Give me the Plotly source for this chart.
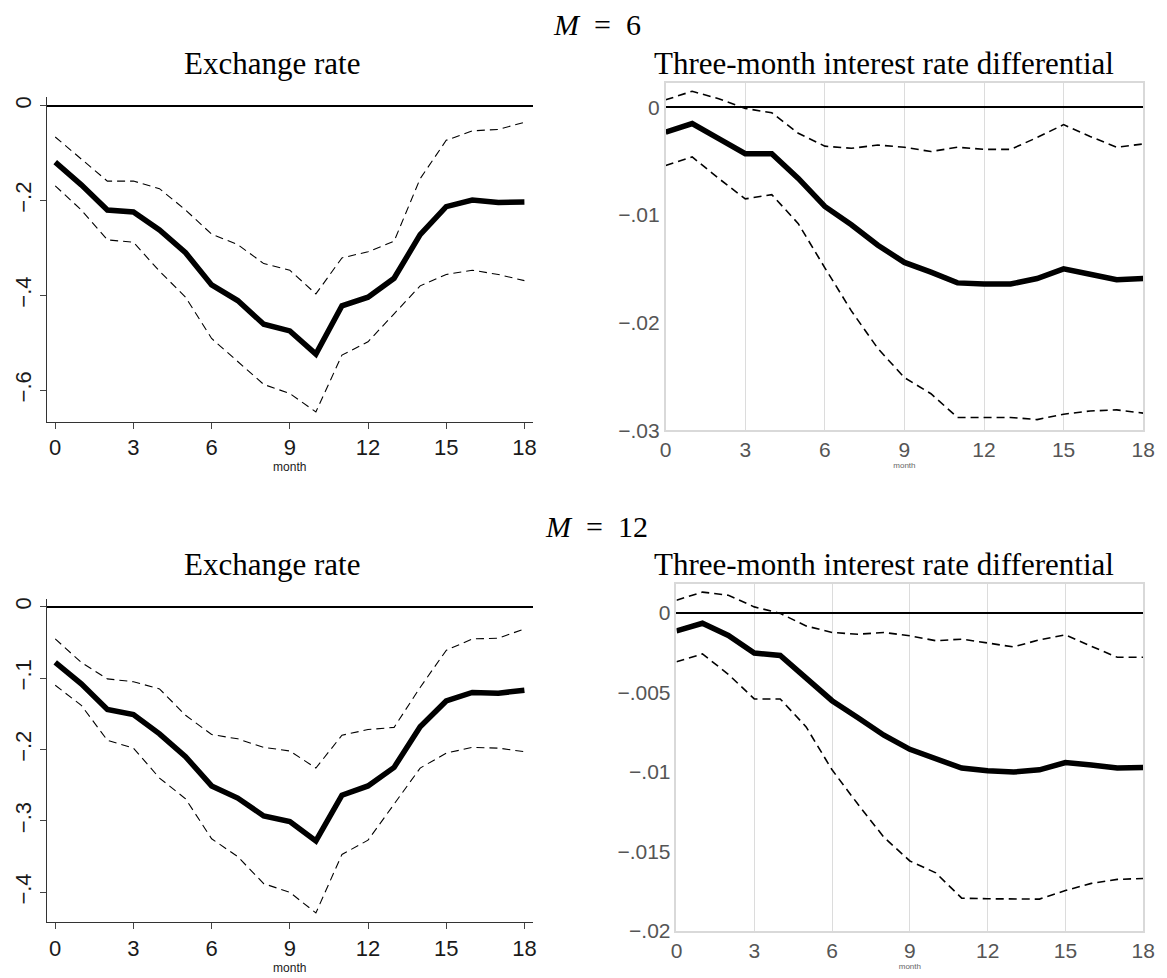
import plotly.graph_objects as go

# Impulse responses over an 18-month horizon, point estimate with confidence bands
months = list(range(19))

xr_m6_irf = [-0.119, -0.167, -0.220, -0.224, -0.262, -0.310, -0.378, -0.411, -0.461, -0.475,
             -0.524, -0.422, -0.404, -0.364, -0.272, -0.213, -0.199, -0.204, -0.203]
xr_m6_hi = [-0.066, -0.113, -0.159, -0.159, -0.175, -0.220, -0.271, -0.293, -0.333, -0.347,
            -0.397, -0.321, -0.308, -0.286, -0.154, -0.073, -0.053, -0.050, -0.035]
xr_m6_lo = [-0.169, -0.220, -0.283, -0.288, -0.349, -0.404, -0.491, -0.540, -0.588, -0.607,
            -0.646, -0.526, -0.498, -0.439, -0.380, -0.356, -0.347, -0.356, -0.369]

ir_m6_irf = [-0.0023, -0.0015, -0.0029, -0.0043, -0.0043, -0.0066, -0.0092, -0.0109, -0.0128, -0.0144,
             -0.0153, -0.0163, -0.0164, -0.0164, -0.0159, -0.0150, -0.0155, -0.0160, -0.0159]
ir_m6_hi = [0.0007, 0.0015, 0.0008, -0.0001, -0.0005, -0.0024, -0.0036, -0.0038, -0.0035, -0.0037,
            -0.0041, -0.0037, -0.0039, -0.0039, -0.0028, -0.0016, -0.0027, -0.0037, -0.0034]
ir_m6_lo = [-0.0054, -0.0046, -0.0066, -0.0085, -0.0081, -0.0108, -0.0149, -0.0189, -0.0224, -0.0251,
            -0.0266, -0.0288, -0.0288, -0.0288, -0.0290, -0.0285, -0.0282, -0.0281, -0.0284]

xr_m12_irf = [-0.078, -0.108, -0.144, -0.151, -0.178, -0.210, -0.251, -0.268, -0.293, -0.301,
              -0.328, -0.264, -0.251, -0.225, -0.168, -0.132, -0.120, -0.121, -0.117]
xr_m12_hi = [-0.045, -0.078, -0.101, -0.105, -0.115, -0.152, -0.179, -0.185, -0.197, -0.202,
             -0.226, -0.180, -0.172, -0.169, -0.113, -0.061, -0.045, -0.044, -0.031]
xr_m12_lo = [-0.110, -0.138, -0.187, -0.198, -0.240, -0.269, -0.325, -0.350, -0.388, -0.400,
             -0.429, -0.347, -0.327, -0.277, -0.226, -0.205, -0.197, -0.198, -0.203]

ir_m12_irf = [-0.00114, -0.00066, -0.00143, -0.00253, -0.00269, -0.00408, -0.00553, -0.0066, -0.0077,
              -0.00859, -0.00915, -0.00977, -0.00994, -0.01002, -0.00988, -0.00942, -0.00957, -0.00977, -0.00973]
ir_m12_hi = [0.00079, 0.0013, 0.0011, 0.00037, -0.00004, -0.00083, -0.00124, -0.00135, -0.00124,
             -0.00145, -0.00176, -0.00166, -0.0019, -0.00215, -0.0017, -0.00139, -0.00211, -0.0028, -0.0028]
ir_m12_lo = [-0.00308, -0.00259, -0.00387, -0.00542, -0.00542, -0.00718, -0.00988, -0.01205, -0.01412,
             -0.01561, -0.01636, -0.01795, -0.01799, -0.01799, -0.01801, -0.01747, -0.01702, -0.01677, -0.01671]

x_ticks = [0, 3, 6, 9, 12, 15, 18]
xr_m6_ticks = [0, -0.2, -0.4, -0.6]
xr_m6_ticktext = ["0", "\u2212.2", "\u2212.4", "\u2212.6"]
xr_m12_ticks = [0, -0.1, -0.2, -0.3, -0.4]
xr_m12_ticktext = ["0", "\u2212.1", "\u2212.2", "\u2212.3", "\u2212.4"]
ir_m6_ticks = [0, -0.01, -0.02, -0.03]
ir_m6_ticktext = ["0", "\u2212.01", "\u2212.02", "\u2212.03"]
ir_m12_ticks = [0, -0.005, -0.01, -0.015, -0.02]
ir_m12_ticktext = ["0", "\u2212.005", "\u2212.01", "\u2212.015", "\u2212.02"]

panel_title_left = "Exchange rate"
panel_title_right = "Three-month interest rate differential"
block_titles = ["<i>M</i>\u2002=\u20026", "<i>M</i>\u2002=\u200212"]
x_title = "month"

W, H = 1167, 978


def px_x(a, b):
    return [a / W, b / W]


def px_y(top, bottom):
    return [1 - bottom / H, 1 - top / H]


fig = go.Figure()

panels = [
    # (axis suffix, irf, hi, lo, style)
    ("", xr_m6_irf, xr_m6_hi, xr_m6_lo, "left"),
    ("2", ir_m6_irf, ir_m6_hi, ir_m6_lo, "right"),
    ("3", xr_m12_irf, xr_m12_hi, xr_m12_lo, "left"),
    ("4", ir_m12_irf, ir_m12_hi, ir_m12_lo, "right"),
]

for suf, irf, hi, lo, style in panels:
    xa, ya = "x" + suf, "y" + suf
    if style == "left":
        dash_line = dict(color="black", width=1.1, dash="8px,5px")
    else:
        dash_line = dict(color="black", width=1.6, dash="8px,5px")
    for band in (hi, lo):
        fig.add_trace(go.Scatter(x=months, y=band, mode="lines", line=dash_line,
                                 xaxis=xa, yaxis=ya, showlegend=False, hoverinfo="skip"))
    fig.add_trace(go.Scatter(x=months, y=irf, mode="lines",
                             line=dict(color="black", width=5.5),
                             xaxis=xa, yaxis=ya, showlegend=False))

sans = "Liberation Sans, Arial, sans-serif"
serif = "Liberation Serif, Times New Roman, serif"


def left_axes(xdom, ydom, yrange, yticks, ytext, anchor_x, anchor_y):
    xaxis = dict(domain=xdom, range=[-0.325, 18.32], anchor=anchor_y,
                 tickvals=x_ticks, ticks="outside", ticklen=6, tickcolor="#444", tickwidth=1,
                 showline=True, linecolor="#333", linewidth=1.2, mirror=False,
                 showgrid=False, zeroline=False,
                 tickfont=dict(family=sans, size=22, color="#1a1a1a"),
                 title=dict(text=x_title, font=dict(family=sans, size=12, color="#1a1a1a"), standoff=0))
    yaxis = dict(domain=ydom, range=yrange, anchor=anchor_x,
                 tickvals=yticks, ticktext=ytext, tickangle=-90,
                 ticks="outside", ticklen=6, tickcolor="#444", tickwidth=1,
                 showline=True, linecolor="#333", linewidth=1.2, mirror=False,
                 showgrid=False, zeroline=True, zerolinecolor="black", zerolinewidth=1.5,
                 tickfont=dict(family=sans, size=22, color="#1a1a1a"))
    return xaxis, yaxis


def right_axes(xdom, ydom, yrange, yticks, ytext, anchor_x, anchor_y):
    xaxis = dict(domain=xdom, range=[0, 18], anchor=anchor_y,
                 tickvals=x_ticks, ticks="",
                 showline=True, linecolor="#d9d9d9", linewidth=1.5, mirror=True,
                 showgrid=True, gridcolor="#dcdcdc", gridwidth=1.2, zeroline=False,
                 tickfont=dict(family=sans, size=21, color="#555555"),
                 title=dict(text=x_title, font=dict(family=sans, size=8, color="#666666"), standoff=0))
    yaxis = dict(domain=ydom, range=yrange, anchor=anchor_x,
                 tickvals=yticks, ticktext=ytext, ticks="",
                 showline=True, linecolor="#d9d9d9", linewidth=1.5, mirror=True,
                 showgrid=False, zeroline=True, zerolinecolor="black", zerolinewidth=1.5,
                 tickfont=dict(family=sans, size=21, color="#555555"))
    return xaxis, yaxis


x1, y1 = left_axes(px_x(41.4, 535), px_y(96.7, 426), [-0.6667, 0.0194],
                   xr_m6_ticks, xr_m6_ticktext, "x", "y")
x2, y2 = right_axes(px_x(670, 1155), px_y(83.3, 434.7), [-0.03, 0.00224],
                    ir_m6_ticks, ir_m6_ticktext, "x2", "y2")
x3, y3 = left_axes(px_x(41.4, 535), px_y(605, 932.7), [-0.442, 0.0115],
                   xr_m12_ticks, xr_m12_ticktext, "x3", "y3")
x4, y4 = right_axes(px_x(681, 1155), px_y(590.7, 941.3), [-0.02, 0.00178],
                    ir_m12_ticks, ir_m12_ticktext, "x4", "y4")

annotations = []
for k, off in enumerate([0, 508]):
    annotations.append(dict(text=block_titles[k], x=600 / W, y=1 - (24 + off) / H,
                            xref="paper", yref="paper", showarrow=False,
                            xanchor="center", yanchor="middle",
                            font=dict(family=serif, size=30, color="black")))
    annotations.append(dict(text=panel_title_left, x=270 / W, y=1 - (63 + off) / H,
                            xref="paper", yref="paper", showarrow=False,
                            xanchor="center", yanchor="middle",
                            font=dict(family=serif, size=31, color="black")))
    annotations.append(dict(text=panel_title_right, x=892 / W, y=1 - (63 + off) / H,
                            xref="paper", yref="paper", showarrow=False,
                            xanchor="center", yanchor="middle",
                            font=dict(family=serif, size=31, color="black")))

fig.update_layout(
    width=W, height=H, autosize=False,
    margin=dict(l=0, r=0, t=0, b=0),
    paper_bgcolor="white", plot_bgcolor="white",
    xaxis=x1, yaxis=y1, xaxis2=x2, yaxis2=y2,
    xaxis3=x3, yaxis3=y3, xaxis4=x4, yaxis4=y4,
    annotations=annotations,
)

fig.write_html("out.html")
